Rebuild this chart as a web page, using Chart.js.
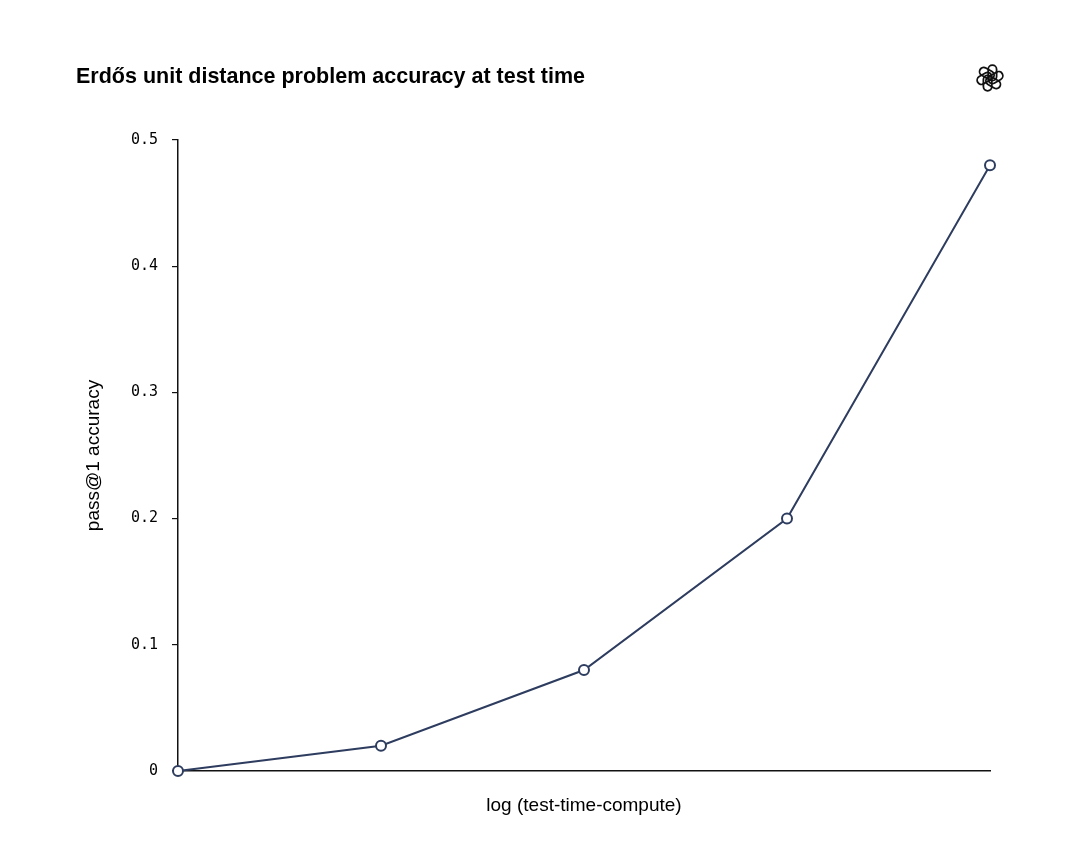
<!DOCTYPE html>
<html>
<head>
<meta charset="utf-8">
<title>Erdős unit distance problem accuracy at test time</title>
<script src="https://cdn.jsdelivr.net/npm/chart.js@4.4.0/dist/chart.umd.min.js"></script>
<style>
  html, body { margin: 0; padding: 0; background: #fff; }
  #wrap { position: relative; width: 1080px; height: 856px; }
  #logo { position: absolute; left: 974px; top: 62px; }
</style>
</head>
<body>
<div id="wrap">
  <canvas id="accuracyChart" width="1080" height="856"></canvas>
  <svg id="logo" width="32" height="32" viewBox="-16 -16 32 32">
    <g fill="none" stroke="#111" stroke-width="1.8">
      <rect x="-1.8" y="-12.8" width="8.4" height="15.5" rx="4.2" transform="rotate(0)"></rect>
      <rect x="-1.8" y="-12.8" width="8.4" height="15.5" rx="4.2" transform="rotate(60)"></rect>
      <rect x="-1.8" y="-12.8" width="8.4" height="15.5" rx="4.2" transform="rotate(120)"></rect>
      <rect x="-1.8" y="-12.8" width="8.4" height="15.5" rx="4.2" transform="rotate(180)"></rect>
      <rect x="-1.8" y="-12.8" width="8.4" height="15.5" rx="4.2" transform="rotate(240)"></rect>
      <rect x="-1.8" y="-12.8" width="8.4" height="15.5" rx="4.2" transform="rotate(300)"></rect>
    </g>
  </svg>
</div>
<script>
// 데이터
const computeSteps = [0, 1, 2, 3, 4];
const accuracy = [0, 0.02, 0.08, 0.2, 0.48];
const yTickValues = [0, 0.1, 0.2, 0.3, 0.4, 0.5];

const chartTitle = 'Erdős unit distance problem accuracy at test time';
const xTitle = 'log (test-time-compute)';
const yTitle = 'pass@1 accuracy';

const lineColor = '#2e3d5f';
const sansFont = "'Liberation Sans', Arial, Helvetica, sans-serif";
const monoFont = "'DejaVu Sans Mono', monospace";

const points = computeSteps.map((x, i) => ({ x: x, y: accuracy[i] }));

const ctx = document.getElementById('accuracyChart').getContext('2d');
new Chart(ctx, {
    type: 'line',
    data: {
        datasets: [{
            label: yTitle,
            data: points,
            borderColor: lineColor,
            borderWidth: 2,
            backgroundColor: 'rgba(0, 0, 0, 0)',
            pointBackgroundColor: '#fff',
            pointBorderColor: lineColor,
            pointBorderWidth: 2,
            pointRadius: 5,
            tension: 0,
            clip: false,
        }],
    },
    options: {
        responsive: false,
        animation: false,
        devicePixelRatio: 1,
        layout: {
            padding: { left: 76, right: 90, top: 64, bottom: 30 }
        },
        scales: {
            x: {
                type: 'linear',
                min: 0,
                max: 4,
                grid: { display: false },
                border: { display: true, color: '#111', width: 1.5 },
                ticks: { display: false },
                title: {
                    display: true,
                    text: xTitle,
                    color: '#000',
                    font: { family: sansFont, size: 19 },
                    padding: { top: 0, bottom: 8.6 }
                },
                afterFit: (scale) => { scale.height = 55; }
            },
            y: {
                min: 0,
                max: 0.5,
                afterBuildTicks: (scale) => {
                    scale.ticks = yTickValues.map(v => ({ value: v }));
                },
                grid: {
                    display: true,
                    drawOnChartArea: false,
                    drawTicks: true,
                    tickLength: 6,
                    color: '#111',
                    lineWidth: 1.2
                },
                border: { display: true, color: '#111', width: 1.5 },
                ticks: {
                    color: '#000',
                    padding: 14,
                    font: { family: monoFont, size: 15 },
                    callback: (value) => String(value)
                },
                title: {
                    display: true,
                    text: yTitle,
                    color: '#000',
                    font: { family: sansFont, size: 19 },
                    padding: { top: 6.6, bottom: 0 }
                },
                afterFit: (scale) => { scale.width = 102; }
            }
        },
        plugins: {
            legend: { display: false },
            tooltip: { enabled: false },
            title: {
                display: true,
                text: chartTitle,
                align: 'start',
                color: '#000',
                font: { family: sansFont, size: 21.5, weight: 'bold' },
                padding: { top: 0, bottom: 50.2 }
            }
        }
    }
});
</script>
</body>
</html>
